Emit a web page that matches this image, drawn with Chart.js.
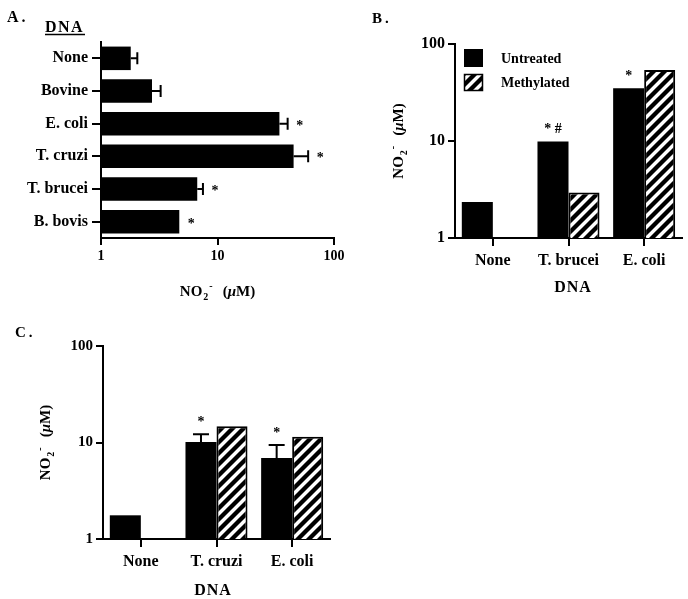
<!DOCTYPE html>
<html>
<head>
<meta charset="utf-8">
<script src="https://cdn.jsdelivr.net/npm/chart.js@4.4.1/dist/chart.umd.min.js"></script>
<style>
  body { margin: 0; background: #fff; }
  #wrap { position: relative; width: 688px; height: 599px; overflow: hidden; background: #fff; }
  canvas { position: absolute; }
</style>
</head>
<body>
<div id="wrap">
  <canvas id="chartA" width="350" height="305" style="left:0;top:0"></canvas>
  <canvas id="chartB" width="348" height="305" style="left:340px;top:0"></canvas>
  <canvas id="chartC" width="350" height="279" style="left:0;top:320px"></canvas>
</div>
<script>
// Panel A: NO2- by DNA source
const dnaA = ['None', 'Bovine', 'E. coli', 'T. cruzi', 'T. brucei', 'B. bovis'];
const no2A = [1.8, 2.74, 34, 45, 6.7, 4.7];
const errA = [2.05, 3.25, 40, 60, 7.5, null];
const markA = ['', '', '*', '*', '*', '*'];

// Panel B: untreated vs methylated
const dnaB = ['None', 'T. brucei', 'E. coli'];
const untreatedB = [2.35, 9.9, 35];
const methylatedB = [null, 2.95, 54];
const markB = ['', '* #', '*'];

// Panel C
const dnaC = ['None', 'T. cruzi', 'E. coli'];
const untreatedC = [1.76, 10.1, 6.9];
const methylatedC = [null, 14.7, 11.5];
const errC = [null, 12.2, 9.4];
const markC = ['', '*', '*'];

const logTicks = [1, 10, 100];
const seriesNames = ['Untreated', 'Methylated'];

const SERIF = '"Liberation Serif", "Times New Roman", serif';

function hatch() {
    const s = 11;
    const c = document.createElement('canvas');
    c.width = c.height = s;
    const g = c.getContext('2d');
    g.fillStyle = '#fff';
    g.fillRect(0, 0, s, s);
    g.strokeStyle = '#000';
    g.lineWidth = 4.3;
    g.beginPath();
    g.moveTo(0, s); g.lineTo(s, 0);
    g.moveTo(-s / 2, s / 2); g.lineTo(s / 2, -s / 2);
    g.moveTo(s / 2, s + s / 2); g.lineTo(s + s / 2, s / 2);
    g.stroke();
    return g.createPattern(c, 'repeat');
}
const stripes = hatch();

// force scale box size so the plot areas line up with the figure
function fixSize(size) {
    return scale => {
        if (scale.isHorizontal()) scale.height = size; else scale.width = size;
        scale.paddingLeft = scale.paddingRight = scale.paddingTop = scale.paddingBottom = 0;
    };
}

function logAxis(pos, size, tickLen, pad, fontSize) {
    return {
        type: 'logarithmic', position: pos, min: 1, max: 100,
        afterBuildTicks: s => { s.ticks = logTicks.map(v => ({ value: v })); },
        afterFit: fixSize(size),
        ticks: { color: '#000', font: { family: SERIF, size: fontSize, weight: 'bold' }, padding: pad,
                 callback: v => String(v), maxRotation: 0, autoSkip: false },
        grid: { drawOnChartArea: false, tickLength: tickLen, color: '#000', lineWidth: 2 },
        border: { color: '#000', width: 2 }
    };
}

function catAxis(pos, size, tickLen, pad) {
    return {
        type: 'category', position: pos, offset: true,
        afterFit: fixSize(size),
        ticks: { color: '#000', font: { family: SERIF, size: 16, weight: 'bold' }, padding: pad,
                 maxRotation: 0, autoSkip: false },
        grid: { offset: false, drawOnChartArea: false, tickLength: tickLen, color: '#000', lineWidth: 2 },
        border: { color: '#000', width: 2 }
    };
}

function text(ctx, s, x, y, font, align) {
    ctx.font = font;
    ctx.textAlign = align || 'left';
    ctx.textBaseline = 'alphabetic';
    ctx.fillStyle = '#000';
    ctx.fillText(s, x, y);
}

// "NO2- (uM)" with sub/superscript, centred on x,y
function drawNO2(ctx, x, y, rot) {
    const big = 'bold 15px ' + SERIF, sm = 'bold 10px ' + SERIF, it = 'italic bold 15px ' + SERIF;
    const parts = [['NO', big, 0, 0], ['2', sm, 4, 1], ['-', sm, -7, 1], ['(', big, 0, 10], ['\u03bc', it, 0, 0], ['M)', big, 0, 0]];
    ctx.save();
    ctx.translate(x, y);
    ctx.rotate(rot);
    let w = 0;
    parts.forEach(p => { ctx.font = p[1]; w += p[3] + ctx.measureText(p[0]).width; });
    let cx = -w / 2;
    parts.forEach(p => {
        cx += p[3];
        text(ctx, p[0], cx, 5 + p[2], p[1]);
        cx += ctx.measureText(p[0]).width;
    });
    ctx.restore();
}

const baseOpts = (padding, scales) => ({
    responsive: false,
    animation: false,
    layout: { padding, autoPadding: false },
    plugins: { legend: { display: false }, tooltip: { enabled: false } },
    scales
});

// ---------- Panel A ----------
new Chart(document.getElementById('chartA').getContext('2d'), {
    type: 'bar',
    data: {
        labels: dnaA,
        datasets: [{ data: no2A, backgroundColor: '#000', borderWidth: 0, categoryPercentage: 0.72, barPercentage: 1 }]
    },
    options: Object.assign(baseOpts({ top: 42, right: 16, bottom: 0, left: 0 }, {
        x: logAxis('bottom', 67, 7, 3, 14),
        y: catAxis('left', 101, 9, 4)
    }), { indexAxis: 'y' }),
    plugins: [{
        id: 'extrasA',
        afterDatasetsDraw(chart) {
            const ctx = chart.ctx, xs = chart.scales.x;
            const bars = chart.getDatasetMeta(0).data;
            ctx.save();
            ctx.strokeStyle = '#000';
            ctx.lineWidth = 2;
            bars.forEach((bar, i) => {
                let end = bar.x;
                if (errA[i] != null) {
                    const ex = xs.getPixelForValue(errA[i]);
                    ctx.beginPath();
                    ctx.moveTo(bar.x, bar.y); ctx.lineTo(ex, bar.y);
                    ctx.moveTo(ex, bar.y - 6); ctx.lineTo(ex, bar.y + 6);
                    ctx.stroke();
                    end = ex;
                }
                if (markA[i]) text(ctx, markA[i], end + 12, bar.y + 6, 'bold 14px ' + SERIF, 'center');
            });
            // panel letter and headings
            ctx.save();
            ctx.letterSpacing = '3px';
            text(ctx, 'A.', 7, 22, 'bold 16px ' + SERIF);
            ctx.letterSpacing = '1.5px';
            text(ctx, 'DNA', 45, 32, 'bold 16px ' + SERIF);
            ctx.restore();
            ctx.beginPath();
            ctx.lineWidth = 1.5;
            ctx.moveTo(45, 34.5); ctx.lineTo(85, 34.5);
            ctx.stroke();
            drawNO2(ctx, (chart.chartArea.left + chart.chartArea.right) / 2, 291, 0);
            ctx.restore();
        }
    }]
});

// grouped panels B and C share the same drawing
function groupedPlugin(id, marks, errs, drawLegend, letter, letterPos, titleY, dnaPos) {
    return {
        id,
        afterDatasetsDraw(chart) {
            const ctx = chart.ctx, ys = chart.scales.y, area = chart.chartArea;
            const bars = chart.getDatasetMeta(0).data;
            ctx.save();
            ctx.strokeStyle = '#000';
            ctx.lineWidth = 2;
            bars.forEach((bar, i) => {
                let top = bar.y;
                if (errs && errs[i] != null) {
                    const ey = ys.getPixelForValue(errs[i]);
                    ctx.beginPath();
                    ctx.moveTo(bar.x, bar.y); ctx.lineTo(bar.x, ey);
                    ctx.moveTo(bar.x - 8, ey); ctx.lineTo(bar.x + 8, ey);
                    ctx.stroke();
                    top = ey;
                }
                if (marks[i]) text(ctx, marks[i], bar.x, top - 8, 'bold 14px ' + SERIF, 'center');
            });
            if (drawLegend) {
                const ds = chart.data.datasets;
                ctx.fillStyle = ds[0].backgroundColor;
                ctx.fillRect(124, 49, 19, 18);
                ctx.fillStyle = ds[1].backgroundColor;
                ctx.fillRect(124, 74, 19, 17);
                ctx.lineWidth = 1.5;
                ctx.strokeRect(124.5, 74.5, 18, 16);
                text(ctx, seriesNames[0], 161, 62.5, 'bold 14px ' + SERIF);
                text(ctx, seriesNames[1], 161, 86.5, 'bold 14px ' + SERIF);
            }
            ctx.save();
            ctx.letterSpacing = '3px';
            text(ctx, letter, letterPos[0], letterPos[1], 'bold 15px ' + SERIF);
            ctx.letterSpacing = '1px';
            text(ctx, 'DNA', dnaPos[0], dnaPos[1], 'bold 16px ' + SERIF, 'center');
            ctx.restore();
            drawNO2(ctx, titleY, (area.top + area.bottom) / 2, -Math.PI / 2);
            ctx.restore();
        }
    };
}

function groupedData(labels, a, b) {
    return {
        labels,
        datasets: [
            { label: seriesNames[0], data: a, backgroundColor: '#000', borderWidth: 0, categoryPercentage: 0.82, barPercentage: 1 },
            { label: seriesNames[1], data: b, backgroundColor: stripes, borderColor: '#000', borderWidth: 2, categoryPercentage: 0.82, barPercentage: 1 }
        ]
    };
}

// ---------- Panel B ----------
new Chart(document.getElementById('chartB').getContext('2d'), {
    type: 'bar',
    data: groupedData(dnaB, untreatedB, methylatedB),
    options: baseOpts({ top: 44, right: 6, bottom: 0, left: 0 }, {
        x: catAxis('bottom', 67, 8, 5),
        y: logAxis('left', 115, 7, 3, 16)
    }),
    plugins: [groupedPlugin('extrasB', markB, null, true, 'B.', [32, 23], 58, [233, 292])]
});

// ---------- Panel C ----------
new Chart(document.getElementById('chartC').getContext('2d'), {
    type: 'bar',
    data: groupedData(dnaC, untreatedC, methylatedC),
    options: baseOpts({ top: 26, right: 20, bottom: 0, left: 0 }, {
        x: catAxis('bottom', 60, 8, 5),
        y: logAxis('left', 103, 7, 3, 15)
    }),
    plugins: [groupedPlugin('extrasC', markC, errC, false, 'C.', [15, 17], 45, [213, 275])]
});
</script>
</body>
</html>
